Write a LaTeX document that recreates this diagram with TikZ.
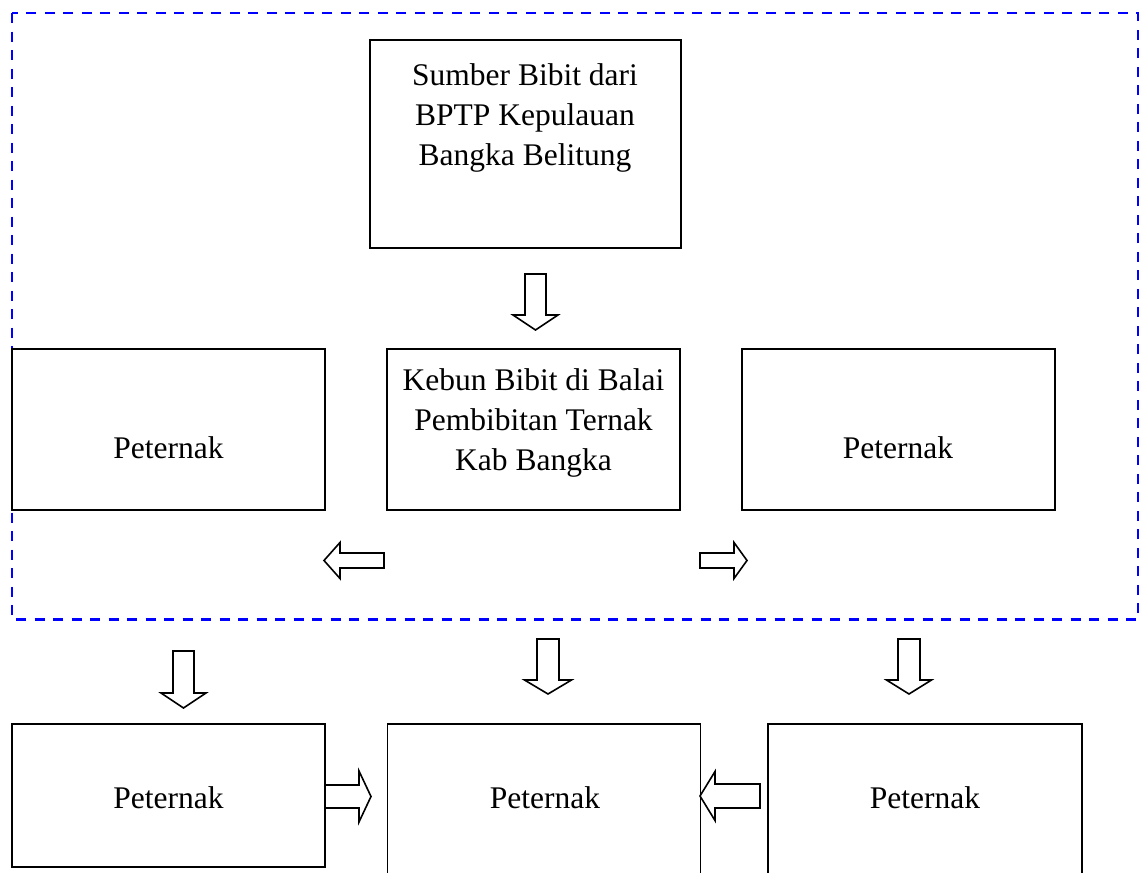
\documentclass[tikz,border=0pt]{standalone}
\usepackage{fontspec}
\setmainfont{Liberation Serif}
\begin{document}
\begin{tikzpicture}[x=1pt,y=-1pt,
  box/.style={draw=black,line width=1.4pt,inner sep=0pt,fill=none},
  txt/.style={font=\fontsize{31.5}{40}\selectfont,align=center,inner sep=0pt},
  arrowshape/.style={draw=black,line width=1.6pt,line join=miter,fill=white},
  pics/arrD/.style args={#1/#2/#3/#4}{code={
    \draw[arrowshape] (-#3/2,0) -- (-#3/2,#1-#2) -- (-#4/2,#1-#2) -- (0,#1) -- (#4/2,#1-#2) -- (#3/2,#1-#2) -- (#3/2,0) -- cycle;}},
  pics/arrR/.style args={#1/#2/#3/#4}{code={
    \draw[arrowshape] (0,-#3/2) -- (#1-#2,-#3/2) -- (#1-#2,-#4/2) -- (#1,0) -- (#1-#2,#4/2) -- (#1-#2,#3/2) -- (0,#3/2) -- cycle;}},
  pics/arrL/.style args={#1/#2/#3/#4}{code={
    \draw[arrowshape] (0,-#3/2) -- (-#1+#2,-#3/2) -- (-#1+#2,-#4/2) -- (-#1,0) -- (-#1+#2,#4/2) -- (-#1+#2,#3/2) -- (0,#3/2) -- cycle;}}
]
\useasboundingbox (0,0) rectangle (1144,873);
\fill[white] (0,0) rectangle (1144,873);

% dashed frame
\draw[blue,line width=2.4pt,dash pattern=on 10pt off 8.5pt] (12,13) rectangle (1138,619.5);

% boxes
\node[box,minimum width=311,minimum height=208] (src) at (525.5,144) {};
\node[box,minimum width=313,minimum height=161] (pl) at (168.5,429.5) {};
\node[box,minimum width=293,minimum height=161] (kb) at (533.5,429.5) {};
\node[box,minimum width=313,minimum height=161] (pr) at (898.5,429.5) {};
\node[box,minimum width=313,minimum height=143] (bl) at (168.5,795.5) {};
\node[box,minimum width=313,minimum height=200] (bc) at (544,824) {};
\node[box,minimum width=314,minimum height=200] (br) at (925,824) {};

% texts
\node[txt] (tsrc) at (525,118) {Sumber Bibit dari\\BPTP Kepulauan\\Bangka Belitung};
\node[txt] (tkb) at (533.5,423) {Kebun Bibit di Balai\\Pembibitan Ternak\\Kab Bangka};
\node[txt,anchor=base] (tpl) at (168.5,458) {Peternak};
\node[txt,anchor=base] (tpr) at (898,458) {Peternak};
\node[txt,anchor=base] (tbl) at (168.5,808) {Peternak};
\node[txt,anchor=base] (tbc) at (545,808) {Peternak};
\node[txt,anchor=base] (tbr) at (925,808) {Peternak};

% block arrows
\pic at (535.5,274) {arrD={56/15/21/45}};
\pic at (384,560.5) {arrL={60/16/15/36}};
\pic at (700,560.5) {arrR={47/13/15/36}};
\pic at (183.5,651) {arrD={57/15/21/45}};
\pic at (548,639) {arrD={55/14/22/47}};
\pic at (909,639) {arrD={55/14/22/45}};
\pic at (325,796.5) {arrR={46/12/23/51}};
\pic at (760,796) {arrL={60/15/24/49}};
\end{tikzpicture}
\end{document}
